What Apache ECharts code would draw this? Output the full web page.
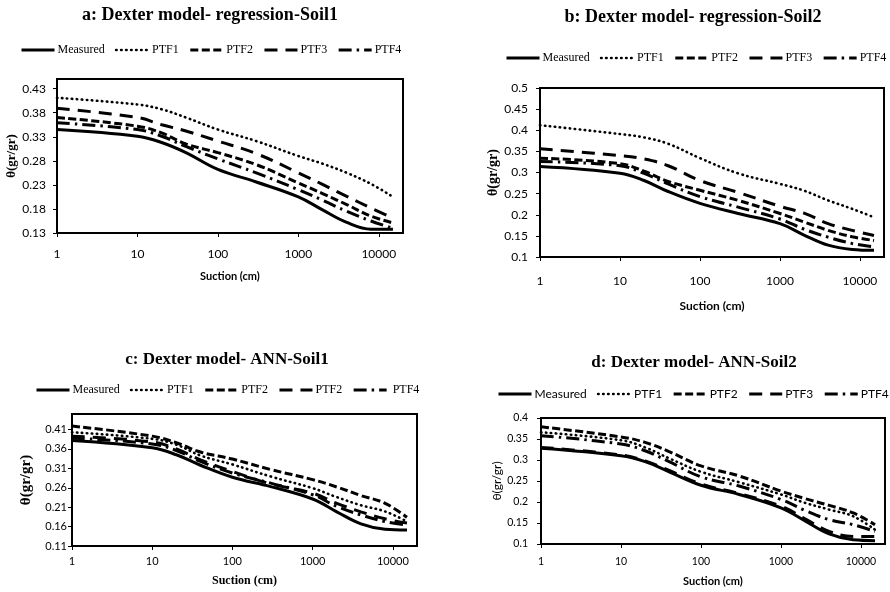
<!DOCTYPE html>
<html><head><meta charset="utf-8">
<script src="https://cdn.jsdelivr.net/npm/echarts@6/dist/echarts.min.js"></script>
<style>html,body{margin:0;padding:0;background:#fff}#c{width:890px;height:592px}</style>
</head><body><div id="c"></div>
<script>
// ---- data ----
const suction = [1, 10, 20, 40, 100, 300, 1000, 2000, 4000, 8000, 15000];
const namesA = ['Measured', 'PTF1', 'PTF2', 'PTF3', 'PTF4'];
const namesC = ['Measured', 'PTF1', 'PTF2', 'PTF2', 'PTF4'];
const titles = ['a: Dexter model- regression-Soil1', 'b: Dexter model- regression-Soil2',
                'c: Dexter model- ANN-Soil1', 'd: Dexter model- ANN-Soil2'];
const xName = 'Suction (cm)';
const yName = 'θ(gr/gr)';

const a_measured = [0.345, 0.331, 0.318, 0.297, 0.262, 0.236, 0.205, 0.178, 0.152, 0.138, 0.138];
const a_ptf1     = [0.411, 0.397, 0.387, 0.370, 0.345, 0.321, 0.290, 0.274, 0.255, 0.232, 0.205];
const a_ptf2     = [0.370, 0.352, 0.338, 0.315, 0.297, 0.272, 0.234, 0.212, 0.189, 0.165, 0.151];
const a_ptf3     = [0.389, 0.370, 0.355, 0.342, 0.321, 0.295, 0.255, 0.231, 0.206, 0.182, 0.161];
const a_ptf4     = [0.359, 0.345, 0.331, 0.310, 0.284, 0.255, 0.220, 0.198, 0.175, 0.155, 0.140];

const b_measured = [0.314, 0.298, 0.281, 0.255, 0.227, 0.203, 0.179, 0.152, 0.128, 0.118, 0.116];
const b_ptf1     = [0.412, 0.391, 0.383, 0.368, 0.334, 0.298, 0.273, 0.257, 0.234, 0.214, 0.194];
const b_ptf2     = [0.334, 0.321, 0.303, 0.279, 0.258, 0.234, 0.203, 0.183, 0.163, 0.148, 0.139];
const b_ptf3     = [0.356, 0.340, 0.332, 0.316, 0.281, 0.253, 0.220, 0.204, 0.179, 0.163, 0.151];
const b_ptf4     = [0.326, 0.316, 0.298, 0.273, 0.243, 0.218, 0.190, 0.166, 0.147, 0.132, 0.124];

const c_measured = [0.382, 0.363, 0.345, 0.318, 0.287, 0.263, 0.231, 0.198, 0.167, 0.153, 0.151];
const c_ptf1     = [0.403, 0.386, 0.371, 0.343, 0.320, 0.289, 0.259, 0.236, 0.215, 0.199, 0.173];
const c_ptf2     = [0.419, 0.393, 0.376, 0.352, 0.334, 0.307, 0.281, 0.262, 0.240, 0.220, 0.184];
const c_ptf2b    = [0.393, 0.378, 0.360, 0.332, 0.302, 0.270, 0.246, 0.220, 0.198, 0.180, 0.169];
const c_ptf4     = [0.388, 0.373, 0.356, 0.328, 0.298, 0.272, 0.242, 0.212, 0.190, 0.173, 0.164];

const d_measured = [0.328, 0.310, 0.296, 0.272, 0.240, 0.218, 0.186, 0.155, 0.124, 0.110, 0.108];
const d_ptf1     = [0.366, 0.347, 0.330, 0.304, 0.272, 0.247, 0.218, 0.198, 0.182, 0.166, 0.134];
const d_ptf2     = [0.379, 0.355, 0.342, 0.320, 0.286, 0.262, 0.226, 0.208, 0.192, 0.174, 0.146];
const d_ptf3     = [0.330, 0.312, 0.298, 0.275, 0.243, 0.220, 0.190, 0.160, 0.130, 0.118, 0.118];
const d_ptf4     = [0.358, 0.338, 0.322, 0.296, 0.260, 0.238, 0.206, 0.180, 0.158, 0.146, 0.130];

const panelValues = [
  [a_measured, a_ptf1, a_ptf2, a_ptf3, a_ptf4],
  [b_measured, b_ptf1, b_ptf2, b_ptf3, b_ptf4],
  [c_measured, c_ptf1, c_ptf2, c_ptf2b, c_ptf4],
  [d_measured, d_ptf1, d_ptf2, d_ptf3, d_ptf4]
];
const panelNames = [namesA, namesA, namesC, namesA];
const yMin = [0.13, 0.1, 0.11, 0.1];
const yMax = [0.45, 0.5, 0.45, 0.4];

// ---- styles / layout ----
const lineStyles = [
  {type: 'solid', width: 3},
  {type: [0.5, 4.5], width: 2.6, cap: 'round'},
  {type: [8, 3.5], width: 3},
  {type: [13, 8], width: 3},
  {type: [13, 5, 2.5, 5], width: 3}
];
const SERIF = 'Liberation Serif, Times New Roman, serif';
const SANS = 'Lato, Liberation Sans, sans-serif';
const layout = [
  {grid: {left: 57, top: 79, width: 346, height: 154}, title: [210, 6], titleSize: 18, legend: [20, 44], legendFont: SERIF,
   tickFont: 12, xLabelMargin: 15, xNameGap: 38, xNameFont: SANS, xNameSize: 11,
   yNameGap: 38, yNameFont: SERIF, yNameBold: true, yNameSize: 13, yLabelMargin: 11},
  {grid: {left: 540, top: 88, width: 344, height: 169}, title: [693, 8], titleSize: 18, legend: [505, 52], legendFont: SERIF,
   tickFont: 12, xLabelMargin: 18, xNameGap: 43, xNameFont: SANS, xNameSize: 12,
   yNameGap: 36, yNameFont: SERIF, yNameBold: true, yNameSize: 14, yLabelMargin: 12},
  {grid: {left: 72, top: 414, width: 345, height: 132}, title: [227, 351], titleSize: 17, legend: [35, 384], legendFont: SERIF,
   tickFont: 11, xLabelMargin: 10, xNameGap: 29, xNameFont: SERIF, xNameSize: 12,
   yNameGap: 38, yNameFont: SERIF, yNameBold: true, yNameSize: 15, yLabelMargin: 5},
  {grid: {left: 541, top: 418, width: 344, height: 126}, title: [694, 354], titleSize: 17, legend: [497, 388], legendFont: SANS,
   tickFont: 10.5, xLabelMargin: 12, xNameGap: 32, xNameFont: SANS, xNameSize: 11,
   yNameGap: 37, yNameFont: SANS, yNameBold: false, yNameSize: 12, yLabelMargin: 13}
];

const option = {
  backgroundColor: '#fff',
  animation: false,
  title: [], legend: [], grid: [], xAxis: [], yAxis: [], series: []
};

layout.forEach((L, p) => {
  option.grid.push(Object.assign({show: true, borderColor: '#000', borderWidth: 2, backgroundColor: '#fff', outerBoundsMode: 'none', containLabel: false}, L.grid));
  option.title.push({
    text: titles[p], left: L.title[0], top: L.title[1], textAlign: 'center', padding: 0,
    textStyle: {fontFamily: SERIF, fontWeight: 'bold', fontSize: L.titleSize, lineHeight: L.titleSize, color: '#000'}
  });
  const legendData = panelNames[p].map((n, i) => ({
    name: String.fromCharCode(97 + p) + i + '|' + n,
    lineStyle: Object.assign({color: '#000'}, lineStyles[i]),
    itemStyle: {opacity: 0}
  }));
  option.legend.push({
    left: L.legend[0], top: L.legend[1], padding: 0, orient: 'horizontal',
    itemWidth: 33, itemHeight: 12, itemGap: 10, selectedMode: false,
    data: legendData,
    itemStyle: {opacity: 0},
    formatter: name => {
      const t = name.split('|')[1];
      return (p === 2 && name.startsWith('c4')) ? ' ' + t : t;
    },
    textStyle: {fontFamily: L.legendFont, fontSize: 12, color: '#000', padding: [0, 0, 0, -2]}
  });
  option.xAxis.push({
    type: 'log', logBase: 10, gridIndex: p, min: 1, max: 20000,
    name: xName, nameLocation: 'middle', nameGap: L.xNameGap,
    nameTextStyle: {fontFamily: L.xNameFont, fontWeight: 'bold', fontSize: L.xNameSize, color: '#000'},
    axisLine: {onZero: false, lineStyle: {color: '#000', width: 1.5}},
    axisTick: {show: true, length: 4, lineStyle: {color: '#000'}},
    minorTick: {show: false}, splitLine: {show: false}, minorSplitLine: {show: false},
    axisLabel: {
      margin: L.xLabelMargin, fontFamily: SANS, fontSize: L.tickFont, color: '#000',
      showMaxLabel: false, hideOverlap: false,
      formatter: v => String(Math.round(v))
    }
  });
  option.yAxis.push({
    type: 'value', gridIndex: p, min: yMin[p], max: yMax[p], interval: 0.05,
    name: yName, nameLocation: 'middle', nameGap: L.yNameGap, nameRotate: 90,
    nameTextStyle: {fontFamily: L.yNameFont, fontWeight: L.yNameBold ? 'bold' : 'normal', fontSize: L.yNameSize, color: '#000'},
    axisLine: {show: true, lineStyle: {color: '#000', width: 1.5}},
    axisTick: {show: true, length: 4, lineStyle: {color: '#000'}},
    splitLine: {show: false},
    axisLabel: {
      margin: L.yLabelMargin, fontFamily: SANS, fontSize: L.tickFont, color: '#000',
      showMaxLabel: (p === 1 || p === 3), hideOverlap: false,
      formatter: v => String(+v.toFixed(2))
    }
  });
  panelValues[p].forEach((vals, i) => {
    option.series.push({
      type: 'line', name: String.fromCharCode(97 + p) + i + '|' + panelNames[p][i],
      xAxisIndex: p, yAxisIndex: p,
      data: suction.map((s, k) => [s, vals[k]]),
      symbol: 'none', showSymbol: false, smooth: 0.4,
      itemStyle: {color: '#000'},
      lineStyle: Object.assign({color: '#000'}, lineStyles[i]),
      z: 10 - i
    });
  });
});

const chart = echarts.init(document.getElementById('c'), null, {renderer: 'canvas'});
chart.setOption(option);
</script>
</body></html>
